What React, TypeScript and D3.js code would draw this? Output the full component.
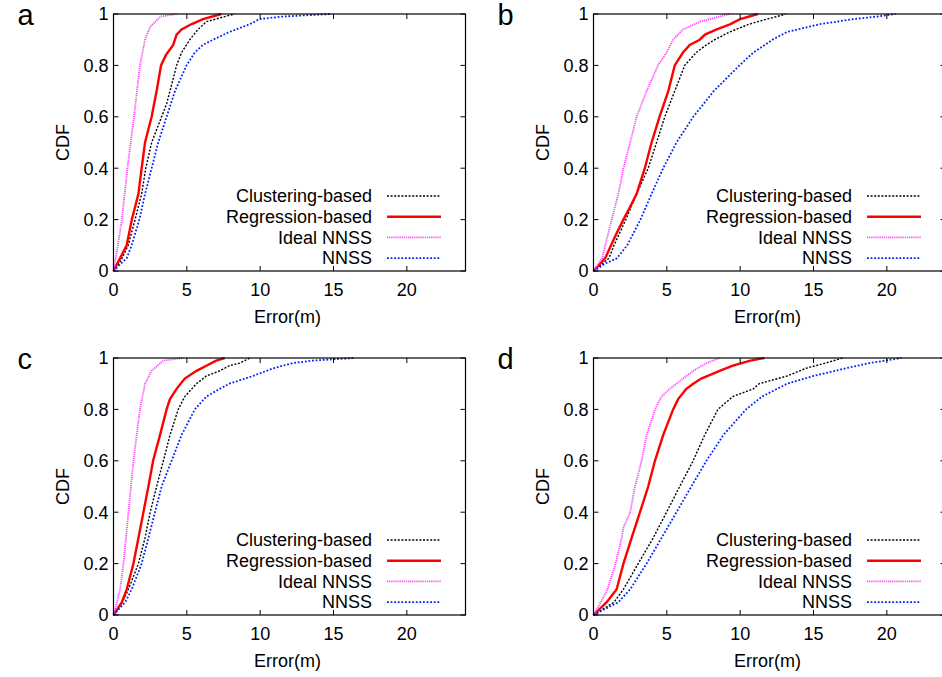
import * as d3 from 'd3';

// CDF curves: [error (m), cumulative fraction]
const aClustering = [[0, 0], [0.5, 0.04], [1.0, 0.1], [1.47, 0.2], [1.92, 0.3], [2.2, 0.4], [2.6, 0.5], [3.28, 0.6], [3.62, 0.65], [3.85, 0.7], [4.3, 0.8], [4.64, 0.85], [5.2, 0.9], [5.77, 0.94], [6.33, 0.97], [7.58, 0.99], [8.26, 1]];
const aRegression = [[0, 0], [0.45, 0.05], [0.9, 0.1], [1.25, 0.2], [1.7, 0.3], [1.92, 0.4], [2.15, 0.5], [2.6, 0.6], [2.94, 0.7], [3.24, 0.8], [3.57, 0.84], [4.07, 0.88], [4.3, 0.92], [4.64, 0.94], [5.3, 0.96], [6.1, 0.98], [7.35, 1]];
const aIdeal = [[0, 0], [0.3, 0.1], [0.57, 0.2], [0.95, 0.4], [1.4, 0.6], [1.8, 0.8], [2.15, 0.9], [2.5, 0.95], [3.2, 0.99], [4.3, 1]];
const aNnss = [[0, 0], [0.9, 0.05], [1.24, 0.1], [1.76, 0.2], [2.15, 0.3], [2.6, 0.4], [3.05, 0.5], [3.62, 0.6], [4.19, 0.7], [4.98, 0.8], [5.54, 0.85], [6.1, 0.88], [6.79, 0.9], [7.9, 0.93], [9.28, 0.96], [9.95, 0.98], [11.5, 0.99], [14.8, 1]];

const bClustering = [[0, 0], [1.06, 0.05], [1.4, 0.1], [2.2, 0.2], [2.94, 0.3], [3.73, 0.4], [4.3, 0.5], [4.86, 0.6], [5.54, 0.7], [6.22, 0.8], [7.0, 0.85], [7.7, 0.88], [8.26, 0.9], [9.28, 0.93], [10.6, 0.96], [11.8, 0.98], [12.5, 0.99], [13.1, 1]];
const bRegression = [[0, 0], [0.8, 0.05], [1.2, 0.1], [1.6, 0.15], [2.04, 0.2], [2.5, 0.25], [2.94, 0.3], [3.5, 0.4], [3.96, 0.5], [4.5, 0.6], [5.1, 0.7], [5.54, 0.8], [6.1, 0.85], [6.56, 0.88], [7.24, 0.9], [7.6, 0.92], [8.4, 0.94], [9.3, 0.96], [10.0, 0.98], [11.2, 1]];
const bIdeal = [[0, 0], [0.6, 0.05], [0.8, 0.1], [1.24, 0.2], [1.7, 0.3], [2.04, 0.4], [2.5, 0.5], [2.94, 0.6], [3.62, 0.7], [4.4, 0.8], [4.98, 0.85], [5.43, 0.9], [6.1, 0.94], [7.24, 0.97], [8.6, 0.99], [9.3, 1]];
const bNnss = [[0, 0], [0.84, 0.03], [1.6, 0.05], [2.3, 0.1], [3.2, 0.2], [3.96, 0.3], [4.75, 0.4], [5.66, 0.5], [6.8, 0.6], [8.2, 0.7], [9.95, 0.8], [10.9, 0.85], [12.2, 0.9], [13.2, 0.93], [15.4, 0.96], [17.7, 0.98], [19.3, 0.99], [20.6, 1]];

const cClustering = [[0, 0], [0.6, 0.05], [1.02, 0.1], [1.7, 0.2], [2.15, 0.3], [2.5, 0.4], [2.94, 0.5], [3.4, 0.6], [3.85, 0.7], [4.41, 0.8], [4.86, 0.85], [5.66, 0.9], [6.33, 0.93], [7.24, 0.95], [7.9, 0.97], [8.6, 0.98], [9.3, 1]];
const cRegression = [[0, 0], [0.57, 0.05], [0.9, 0.1], [1.13, 0.15], [1.36, 0.2], [1.7, 0.3], [2.04, 0.4], [2.38, 0.5], [2.7, 0.6], [3.17, 0.7], [3.62, 0.8], [3.85, 0.84], [4.3, 0.88], [4.86, 0.92], [5.66, 0.95], [6.33, 0.97], [7.0, 0.99], [7.58, 1]];
const cIdeal = [[0, 0], [0.45, 0.1], [0.68, 0.2], [1.02, 0.4], [1.36, 0.6], [1.8, 0.8], [2.15, 0.9], [2.6, 0.95], [3.4, 0.99], [4.75, 1]];
const cNnss = [[0, 0], [0.8, 0.05], [1.24, 0.1], [1.92, 0.2], [2.38, 0.3], [2.83, 0.4], [3.28, 0.5], [3.96, 0.6], [4.64, 0.7], [5.54, 0.8], [6.33, 0.85], [7.24, 0.88], [7.9, 0.9], [9.5, 0.93], [10.9, 0.96], [12.2, 0.98], [13.6, 0.99], [16.4, 1]];

const dClustering = [[0, 0], [1.4, 0.05], [2.04, 0.1], [3.05, 0.2], [4.07, 0.3], [4.98, 0.4], [5.88, 0.5], [6.79, 0.6], [7.58, 0.7], [8.48, 0.8], [9.5, 0.85], [10.9, 0.88], [11.3, 0.9], [13.2, 0.93], [14.5, 0.96], [15.8, 0.98], [17.0, 1]];
const dRegression = [[0, 0], [0.9, 0.05], [1.58, 0.1], [2.04, 0.2], [2.6, 0.3], [3.17, 0.4], [3.73, 0.5], [4.19, 0.6], [4.75, 0.7], [5.43, 0.8], [5.77, 0.84], [6.33, 0.88], [6.8, 0.9], [7.35, 0.92], [8.6, 0.95], [9.5, 0.97], [10.7, 0.99], [11.65, 1]];
const dIdeal = [[0, 0], [0.5, 0.05], [0.95, 0.1], [1.5, 0.2], [1.92, 0.3], [2.04, 0.34], [2.5, 0.4], [2.83, 0.5], [3.28, 0.6], [3.62, 0.7], [4.19, 0.8], [4.64, 0.85], [5.2, 0.88], [5.66, 0.9], [6.1, 0.92], [6.8, 0.95], [7.7, 0.98], [8.6, 1]];
const dNnss = [[0, 0], [1.7, 0.05], [2.5, 0.1], [3.62, 0.2], [4.64, 0.3], [5.66, 0.4], [6.67, 0.5], [7.7, 0.6], [8.85, 0.7], [10.4, 0.8], [11.5, 0.85], [13.2, 0.9], [15.0, 0.93], [17.2, 0.96], [18.8, 0.98], [21.0, 1]];

const seriesNames = ['Clustering-based', 'Regression-based', 'Ideal NNSS', 'NNSS'];
const xTicks = [0, 5, 10, 15, 20];
const yTicks = [0, 0.2, 0.4, 0.6, 0.8, 1];

const panels = [
  { letter: 'a', left: 113.5, top: 14, curves: [aClustering, aRegression, aIdeal, aNnss] },
  { letter: 'b', left: 593.5, top: 14, curves: [bClustering, bRegression, bIdeal, bNnss] },
  { letter: 'c', left: 113.5, top: 358, curves: [cClustering, cRegression, cIdeal, cNnss] },
  { letter: 'd', left: 593.5, top: 358, curves: [dClustering, dRegression, dIdeal, dNnss] },
];

const styles = [
  { stroke: '#000000', width: 1.4, dash: '2,1.6' },
  { stroke: '#ff0000', width: 2.4, dash: null },
  { stroke: '#ff44ff', width: 1.8, dash: '1.2,0.9' },
  { stroke: '#0022ff', width: 1.8, dash: '1.8,1.8' },
];

const W = 352;
const H = 257;
const FONT = '"Liberation Sans", Arial, Helvetica, sans-serif';

const Panel = ({ p }) => {
  const x = d3.scaleLinear().domain([0, 24]).range([0, W]);
  const y = d3.scaleLinear().domain([0, 1]).range([H, 0]);
  const line = d3.line().x(d => x(d[0])).y(d => y(d[1]));
  const tick = 5;

  return (
    <g transform={`translate(${p.left},${p.top})`} fontFamily={FONT}>
      <text x={-96} y={11} fontSize={29} textAnchor="start">{p.letter}</text>

      {p.curves.map((c, i) => (
        <path key={i} d={line(c)} fill="none" stroke={styles[i].stroke}
          strokeWidth={styles[i].width} strokeDasharray={styles[i].dash || undefined} />
      ))}

      <rect x={0} y={0} width={W} height={H} fill="none" stroke="#000" strokeWidth={1.2} />

      {xTicks.map(t => (
        <g key={'x' + t}>
          <line x1={x(t)} x2={x(t)} y1={H} y2={H - tick} stroke="#000" />
          <line x1={x(t)} x2={x(t)} y1={0} y2={tick} stroke="#000" />
          <text x={x(t)} y={H + 19} dy="0.35em" fontSize={18} textAnchor="middle">{t}</text>
        </g>
      ))}
      {yTicks.map(t => (
        <g key={'y' + t}>
          <line x1={0} x2={tick} y1={y(t)} y2={y(t)} stroke="#000" />
          <line x1={W} x2={W - tick} y1={y(t)} y2={y(t)} stroke="#000" />
          <text x={-5} y={y(t)} dy="0.35em" fontSize={18} textAnchor="end">{t}</text>
        </g>
      ))}

      <text x={W / 2 - 2} y={H + 46} dy="0.35em" fontSize={18} textAnchor="middle">Error(m)</text>
      <text transform={`translate(${-51},${H / 2}) rotate(-90)`} dy="0.35em" fontSize={18} textAnchor="middle">CDF</text>

      {seriesNames.map((name, i) => {
        const ly = 182 + i * 20.7;
        return (
          <g key={name}>
            <text x={258.5} y={ly} dy="0.35em" fontSize={18} textAnchor="end">{name}</text>
            <line x1={273.5} x2={327.5} y1={ly} y2={ly} stroke={styles[i].stroke}
              strokeWidth={styles[i].width} strokeDasharray={styles[i].dash || undefined} />
          </g>
        );
      })}
    </g>
  );
};

export default function App() {
  return (
    <svg width={942} height={677} style={{ position: 'absolute', left: 0, top: 0, background: '#fff' }}>
      <rect width={942} height={677} fill="#fff" />
      {panels.map(p => <Panel key={p.letter} p={p} />)}
    </svg>
  );
}
